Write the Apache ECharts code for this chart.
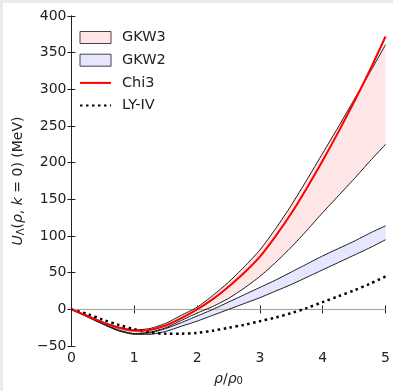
<!DOCTYPE html>
<html><head><meta charset="utf-8">
<script src="https://cdn.jsdelivr.net/npm/echarts@6/dist/echarts.min.js"></script>
<style>
html,body{margin:0;padding:0;background:#ebebeb;width:393px;height:391px;overflow:hidden;}
#c{position:absolute;left:3px;top:3px;width:390px;height:388px;background:#fff;}
</style></head>
<body><div id="c"></div>
<script>
const xs = [0,0.25,0.5,0.75,1,1.25,1.5,1.75,2,2.25,2.5,2.75,3,3.25,3.5,3.75,4,4.25,4.5,4.75,5];
const gkw3Lower = [0,-10,-20,-29,-33,-31,-25,-15,-5,4,15,29,45,64,85,108,132,155,178,202,225];
const gkw3Upper = [0,-8,-17,-24,-28,-26,-19,-8,3,19,37,58,81,110,142,177,213,249,286,323,361];
const gkw2Lower = [0,-10,-20,-29,-34,-34,-30,-23,-16,-8,0,8,16,25,34,44,54,64,74,84,95];
const gkw2Upper = [0,-9,-19,-28,-33,-32,-26,-18,-9,0,10,20,30,40,51,62,73,83,93,104,114];
const chi3 = [0,-9,-18,-25,-29,-28,-22,-12,0,14,31,50,72,100,131,166,203,242,283,326,372];
const lyIV = [0,-6,-14,-21,-27,-31,-33,-33,-32,-29,-25,-21,-16,-11,-5,2,10,18,26,35,45];
const xTicks = [0,1,2,3,4,5];
const yTicks = [-50,0,50,100,150,200,250,300,350,400];

const FONT = 'DejaVu Sans';
const pairs = (ys) => xs.map((x,i)=>[x, ys[i]]);
const band = (name, lo, hi, fill) => ({
  name, type:'custom', z:1,
  itemStyle:{color:fill},
  data: xs.map((x,i)=>[x, lo[i], hi[i]]),
  renderItem: (params, api) => {
    if (params.dataIndex !== 0) return null;
    const pts = [];
    xs.forEach((x,i)=>pts.push(api.coord([x, hi[i]])));
    for (let i = xs.length-1; i>=0; i--) pts.push(api.coord([xs[i], lo[i]]));
    return {type:'polygon', shape:{points:pts}, style:{fill, stroke:null}};
  }
});
const edge = (name, ys) => ({
  name, type:'line', data:pairs(ys), symbol:'none', z:3, smooth:0.2,
  lineStyle:{color:'#1a1a1a', width:1}, silent:true
});

const chart = echarts.init(document.getElementById('c'));
chart.setOption({
  animation:false,
  backgroundColor:'#fff',
  grid:{left:63, right:7, top:13, bottom:40},
  legend:{
    orient:'vertical', left:76, top:27, padding:0, itemWidth:31, itemHeight:12, itemGap:7.7,
    textStyle:{fontFamily:FONT, fontSize:14.5, color:'#222', padding:[0,0,0,6]},
    data:[
      {name:'GKW3', icon:'rect', itemStyle:{color:'#ffe6e6', borderColor:'#444', borderWidth:1}},
      {name:'GKW2', icon:'rect', itemStyle:{color:'#e6e6ff', borderColor:'#444', borderWidth:1}},
      {name:'Chi3', itemStyle:{opacity:0}},
      {name:'LY-IV', itemStyle:{opacity:0}}
    ]
  },
  xAxis:[{
    type:'value', min:0, max:5, interval:1,
    name:'{i|ρ}/{i|ρ}{s|0}', nameLocation:'middle', nameGap:24,
    nameTextStyle:{fontFamily:FONT, fontSize:14, color:'#222',
      rich:{i:{fontStyle:'italic', fontFamily:FONT, fontSize:14, color:'#222'},
            s:{fontFamily:FONT, fontSize:10, color:'#222', verticalAlign:'bottom', lineHeight:12, padding:[6,0,0,0]}}},
    axisLine:{show:true, lineStyle:{color:'#222', width:1}},
    axisTick:{inside:true, length:4, lineStyle:{color:'#222'}},
    axisLabel:{fontFamily:FONT, fontSize:14, color:'#222', margin:5},
    splitLine:{show:false}
  },{
    type:'value', min:0, max:5, interval:1, position:'top',
    axisLine:{show:true, lineStyle:{color:'#222', width:1}},
    axisTick:{inside:true, length:4, lineStyle:{color:'#222'}},
    axisLabel:{show:false}, splitLine:{show:false}
  }],
  yAxis:[{
    type:'value', min:-50, max:400, interval:50,
    name:'{i|U}{s|Λ}({i|ρ}, {i|k} = 0) (MeV)', nameLocation:'middle', nameGap:36, nameRotate:90,
    nameTextStyle:{fontFamily:FONT, fontSize:14, color:'#222',
      rich:{i:{fontStyle:'italic', fontFamily:FONT, fontSize:14, color:'#222'},
            s:{fontFamily:FONT, fontSize:10, color:'#222', verticalAlign:'bottom', padding:[6,0,0,0]}}},
    axisLine:{show:true, lineStyle:{color:'#222', width:1}},
    axisTick:{inside:true, length:4, lineStyle:{color:'#222'}},
    axisLabel:{fontFamily:FONT, fontSize:14, color:'#222', margin:5,
      formatter:(v)=> String(v).replace('-', '\u2212')},
    splitLine:{show:false}
  },{
    type:'value', min:-50, max:400, interval:50, position:'right',
    axisLine:{show:true, lineStyle:{color:'#222', width:1}},
    axisTick:{inside:true, length:4, lineStyle:{color:'#222'}},
    axisLabel:{show:false}, splitLine:{show:false}
  }],
  series:[
    band('GKW3', gkw3Lower, gkw3Upper, '#ffe6e6'),
    band('GKW2', gkw2Lower, gkw2Upper, '#e6e6ff'),
    {
      name:'zero', type:'line', data:[[0,0],[5,0]], symbol:'none', z:2, silent:true,
      lineStyle:{color:'#b0b0b0', width:1}
    },
    edge('gkw3lo', gkw3Lower), edge('gkw3hi', gkw3Upper),
    edge('gkw2lo', gkw2Lower), edge('gkw2hi', gkw2Upper),
    {
      name:'LY-IV', type:'line', data:pairs(lyIV), symbol:'none', smooth:0.3, z:4,
      lineStyle:{color:'#000', width:2.5, type:[2.5,3.5]}, itemStyle:{color:'#000'}
    },
    {
      name:'Chi3', type:'line', data:pairs(chi3), symbol:'none', smooth:0.3, z:5,
      lineStyle:{color:'#ff0000', width:2}, itemStyle:{color:'#ff0000'}
    }
  ]
});
</script></body></html>
